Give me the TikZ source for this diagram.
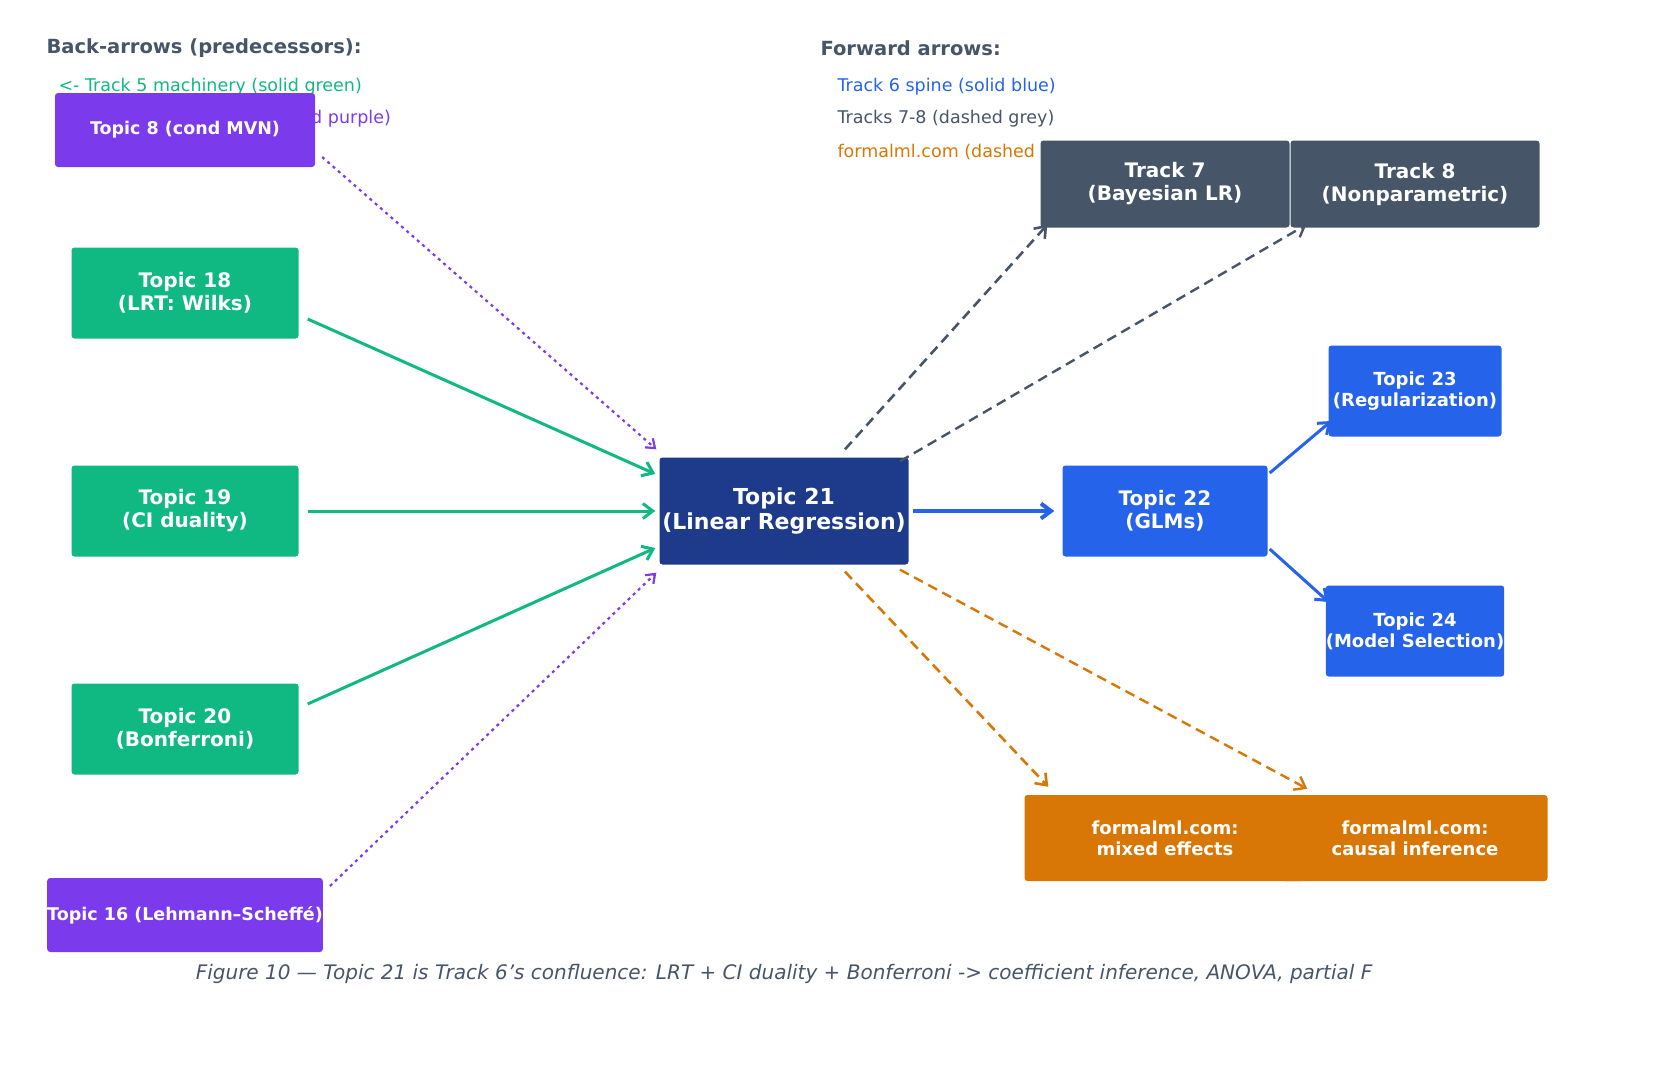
\documentclass[tikz,border=0pt]{standalone}
\usepackage{fontspec}
\setmainfont{DejaVu Sans}
\usetikzlibrary{arrows.meta}
\definecolor{cgreen}{HTML}{10B981}
\definecolor{cpurple}{HTML}{7C3AED}
\definecolor{cnavy}{HTML}{1E3A8A}
\definecolor{cblue}{HTML}{2563EB}
\definecolor{cgrey}{HTML}{475569}
\definecolor{camber}{HTML}{D97706}
\tikzset{
  box/.style={rounded corners=3pt, text=white, align=center, inner sep=0pt,
    font=\fontsize{20}{23}\selectfont\bfseries},
  legend/.style={anchor=west, font=\fontsize{17.5}{20}\selectfont},
  arr/.style={-{Straight Barb[length=10pt,width=15pt]}, line width=3pt},
  fwddash/.style={dash pattern=on 10pt off 6pt, line width=2.4pt},
  backdots/.style={dash pattern=on 3pt off 4pt, line width=2.2pt}
}
\begin{document}
\begin{tikzpicture}[x=1pt, y=-1pt]
\useasboundingbox (0,0) rectangle (1662,1084);

% Legend
\node[legend, text=cgrey, font=\fontsize{19.5}{22}\selectfont\bfseries] (lb) at (43,48) {Back-arrows (predecessors):};
\node[legend, text=cgreen] (lb1) at (55,87) {<- Track 5 machinery (solid green)};
\node[legend, text=cpurple] (lb2) at (55,119) {<- Track 4 estimation (dashed purple)};
\node[legend, text=cgrey, font=\fontsize{19.5}{22}\selectfont\bfseries] (lf) at (817,48) {Forward arrows:};
\node[legend, text=cblue] (lf1) at (834,87) {Track 6 spine (solid blue)};
\node[legend, text=cgrey] (lf2) at (834,119) {Tracks 7-8 (dashed grey)};
\node[legend, text=camber] (lf3) at (834,152) {formalml.com (dashed amber)};

% Predecessors
\node[box, fill=cpurple, minimum width=260, minimum height=74, font=\fontsize{17.5}{20}\selectfont\bfseries] (t8) at (185,130) {Topic 8 (cond MVN)};
\node[box, fill=cgreen, minimum width=227, minimum height=91] (t18) at (185,293) {Topic 18\\(LRT: Wilks)};
\node[box, fill=cgreen, minimum width=227, minimum height=91] (t19) at (185,511) {Topic 19\\(CI duality)};
\node[box, fill=cgreen, minimum width=227, minimum height=91] (t20) at (185,729) {Topic 20\\(Bonferroni)};
\node[box, fill=cpurple, minimum width=260, minimum height=74, font=\fontsize{17.5}{20}\selectfont\bfseries] (t16) at (185,915) {Topic 16 (Lehmann–Scheffé)};

% Centre
\node[box, fill=cnavy, minimum width=249, minimum height=107, font=\fontsize{22}{25}\selectfont\bfseries] (t21) at (784,511) {Topic 21\\(Linear Regression)};

% Successors
\node[box, fill=cgrey, minimum width=249, minimum height=87] (tr7) at (1165,184) {Track 7\\(Bayesian LR)};
\node[box, fill=cgrey, minimum width=249, minimum height=87] (tr8) at (1415,184) {Track 8\\(Nonparametric)};
\node[box, fill=cblue, minimum width=205, minimum height=91] (t22) at (1165,511) {Topic 22\\(GLMs)};
\node[box, fill=cblue, minimum width=173, minimum height=91, font=\fontsize{18}{21}\selectfont\bfseries] (t23) at (1415,391) {Topic 23\\(Regularization)};
\node[box, fill=cblue, minimum width=173, minimum height=91, font=\fontsize{18}{21}\selectfont\bfseries] (t24) at (1415,631) {Topic 24\\(Model Selection)};
\node[box, fill=camber, minimum width=281, minimum height=86, font=\fontsize{18}{21}\selectfont\bfseries] (fm) at (1165,838) {formalml.com:\\mixed effects};
\node[box, fill=camber, minimum width=265, minimum height=86, font=\fontsize{18}{21}\selectfont\bfseries] (fc) at (1415,838) {formalml.com:\\causal inference};

% Back-arrows
\draw[arr, cpurple, backdots, -{Straight Barb[length=8pt,width=12pt]}] ([xshift=7pt,yshift=-27pt]t8.east) -- ([xshift=-3pt,yshift=8pt]t21.north west);
\draw[arr, cgreen] ([xshift=9pt,yshift=-26pt]t18.east) -- ([xshift=-4pt,yshift=37pt]t21.west);
\draw[arr, cgreen] ([xshift=9pt]t19.east) -- ([xshift=-4pt]t21.west);
\draw[arr, cgreen] ([xshift=9pt,yshift=25pt]t20.east) -- ([xshift=-4pt,yshift=-37pt]t21.west);
\draw[arr, cpurple, backdots, -{Straight Barb[length=8pt,width=12pt]}] ([xshift=7pt,yshift=29pt]t16.east) -- ([xshift=-3pt,yshift=-8pt]t21.south west);

% Forward arrows
\draw[arr, cgrey, fwddash, line width=2.6pt] ([xshift=61pt,yshift=8pt]t21.north) -- ([xshift=7pt,yshift=3pt]tr7.south west);
\draw[arr, cgrey, fwddash] ([xshift=116pt,yshift=-4pt]t21.north) -- ([xshift=16pt,yshift=3pt]tr8.south west);
\draw[arr, cblue, line width=4pt] ([xshift=4pt]t21.east) -- ([xshift=-8pt]t22.west);
\draw[arr, cblue] ([xshift=2pt,yshift=38pt]t22.east) -- ([xshift=3pt,yshift=-30pt]t23.west);
\draw[arr, cblue] ([xshift=2pt,yshift=-38pt]t22.east) -- ([xshift=3pt,yshift=29pt]t24.west);
\draw[arr, camber, fwddash, line width=2.6pt] ([xshift=61pt,yshift=-7pt]t21.south) -- ([xshift=24pt,yshift=8pt]fm.north west);
\draw[arr, camber, fwddash] ([xshift=116pt,yshift=-5pt]t21.south) -- ([xshift=25pt,yshift=6pt]fc.north west);

% Caption
\node[text=cgrey, font=\fontsize{20}{24}\selectfont\itshape] (cap) at (784,974) {Figure 10 — Topic 21 is Track 6's confluence: LRT + CI duality + Bonferroni -> coefficient inference, ANOVA, partial F};
\end{tikzpicture}
\end{document}
